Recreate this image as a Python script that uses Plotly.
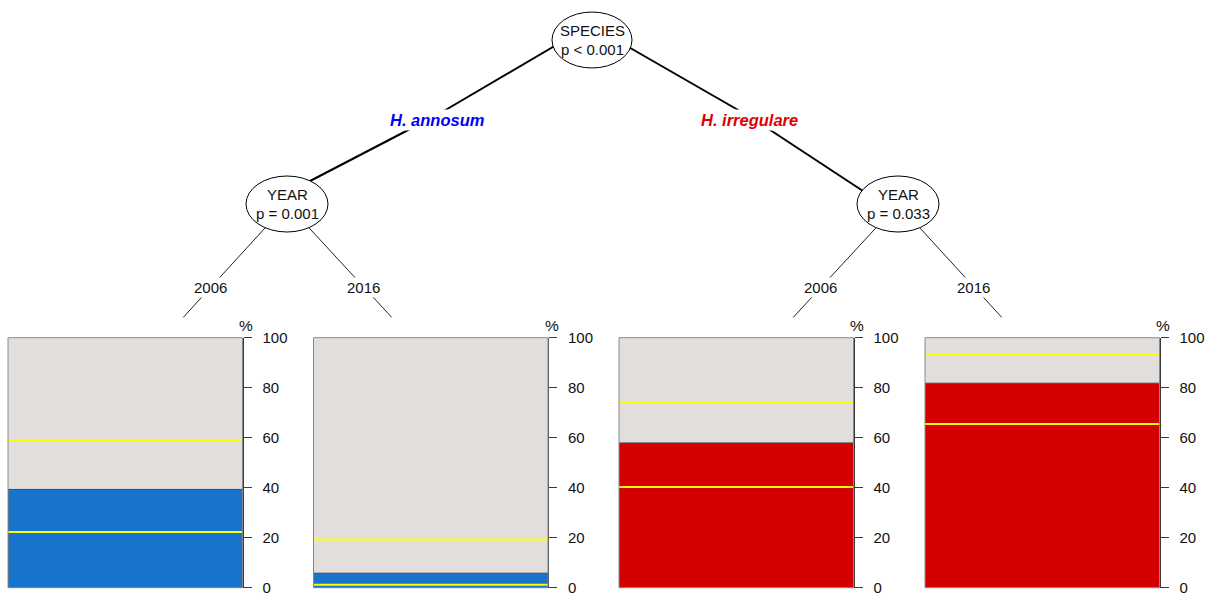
import plotly.graph_objects as go

# ---------------- data ----------------
species = ["H. annosum", "H. irregulare"]
species_colors = ["#0000FF", "#E00000"]
years = ["2006", "2016"]
node_titles = ["SPECIES", "YEAR", "YEAR"]
node_pvals = ["p &lt; 0.001", "p = 0.001", "p = 0.033"]
bar_colors = ["#1874CD", "#1874CD", "#D40000", "#D40000"]
pct = [39.3, 5.8, 57.9, 81.8]        # proportion (%) in each terminal node
ci_lo = [22.3, 1.2, 40.3, 65.5]      # lower confidence limit (%)
ci_hi = [59.1, 19.3, 74.2, 93.5]     # upper confidence limit (%)
tick_vals = [0, 20, 40, 60, 80, 100]

W, H = 1211, 597
FONT = "Liberation Sans, Arial, Helvetica, sans-serif"
GREY = "#E2DEDB"
TXT = "#111111"

fig = go.Figure()

# ---------------- terminal panels ----------------
panel_left = [8, 313.5, 619, 925]
panel_w = 234.5
y_bot, y_top = 587.7, 337.7

for i in range(4):
    n = i + 2
    xa, ya = f"x{n}", f"y{n}"
    x0 = panel_left[i]
    fig.add_trace(go.Bar(x=[0], y=[100 - pct[i]], base=[pct[i]], width=[1],
                         marker=dict(color=GREY, line=dict(width=0)),
                         xaxis=xa, yaxis=ya, hoverinfo="skip"))
    fig.add_trace(go.Bar(x=[0], y=[pct[i]], base=[0], width=[1],
                         marker=dict(color=bar_colors[i], line=dict(color="#4a4a4a", width=1)),
                         xaxis=xa, yaxis=ya, hoverinfo="skip"))
    for v in (ci_lo[i], ci_hi[i]):
        fig.add_trace(go.Scatter(x=[-0.5, 0.5], y=[v, v], mode="lines",
                                 line=dict(color="#FFFF00", width=2),
                                 xaxis=xa, yaxis=ya, hoverinfo="skip"))
    fig.update_layout(**{
        f"xaxis{n}": dict(domain=[x0 / W, (x0 + panel_w) / W], range=[-0.5, 0.5],
                          visible=False, anchor=ya, fixedrange=True, automargin=False),
        f"yaxis{n}": dict(domain=[1 - y_bot / H, 1 - y_top / H], range=[0, 100],
                          anchor=xa, side="right", showgrid=False, zeroline=False,
                          showline=True, linecolor="#3a3a3a", linewidth=1,
                          ticks="outside", ticklen=8, tickwidth=1, tickcolor="#3a3a3a",
                          tickvals=tick_vals, ticklabelstandoff=8, automargin=False,
                          ticklabeloverflow="allow",
                          tickfont=dict(family=FONT, size=15, color=TXT),
                          fixedrange=True),
    })
    fig.add_shape(type="rect", xref=f"{xa} domain", yref=f"{ya} domain",
                  x0=0, x1=1, y0=0, y1=1, line=dict(color="#8a8a8a", width=1),
                  fillcolor="rgba(0,0,0,0)", layer="above")
    fig.add_annotation(x=x0 + panel_w + 3.5, y=325, xref="x", yref="y", text="%",
                       showarrow=False, font=dict(family=FONT, size=15.5, color=TXT))

# ---------------- tree (pixel coordinate frame) ----------------
fig.update_layout(
    xaxis=dict(domain=[0, 1], range=[0, W], visible=False, fixedrange=True, automargin=False),
    yaxis=dict(domain=[0, 1], range=[H, 0], visible=False, fixedrange=True, automargin=False),
)

nodes = [(592, 40, 40, 28), (287, 204, 41, 28), (898, 204, 41, 28)]

# first level edges (parent -> label point -> child)
first_paths = [[(592, 24), (437, 115), (287, 193)],
               [(592, 26), (752, 118), (898, 214)]]
for path in first_paths:
    for (ax0, ay0), (ax1, ay1) in zip(path[:-1], path[1:]):
        fig.add_shape(type="line", xref="x", yref="y", x0=ax0, y0=ay0, x1=ax1, y1=ay1,
                      line=dict(color="black", width=2))

# second level edges
second = [(1, 183.3), (1, 391.7), (2, 793.3), (2, 1001.7)]
for ni, xe in second:
    cx, cy = nodes[ni][0], nodes[ni][1]
    fig.add_shape(type="line", xref="x", yref="y", x0=cx, y0=cy, x1=xe, y1=317.3,
                  line=dict(color="#222222", width=1))

# nodes
for (cx, cy, a, b), t, p in zip(nodes, node_titles, node_pvals):
    fig.add_shape(type="circle", xref="x", yref="y", x0=cx - a, x1=cx + a,
                  y0=cy - b, y1=cy + b, fillcolor="white",
                  line=dict(color="black", width=1))
    fig.add_annotation(x=cx, y=cy - 9.5, xref="x", yref="y", text=t,
                       showarrow=False, font=dict(family=FONT, size=15, color=TXT))
    fig.add_annotation(x=cx, y=cy + 9.5, xref="x", yref="y", text=p,
                       showarrow=False, font=dict(family=FONT, size=15, color=TXT))

# edge labels (species)
for (lx, ly), s, c in zip([(437, 120), (749, 120)], species, species_colors):
    fig.add_annotation(x=lx, y=ly, xref="x", yref="y", text=f"<b><i>{s}</i></b>",
                       showarrow=False, bgcolor="white", borderpad=1,
                       font=dict(family=FONT, size=16.5, color=c))

# edge labels (years)
year_pos = [(210, 287.5), (363.5, 287.5), (820, 287.5), (973.5, 287.5)]
for k, (lx, ly) in enumerate(year_pos):
    fig.add_annotation(x=lx, y=ly, xref="x", yref="y", text=years[k % 2],
                       showarrow=False, bgcolor="white", borderpad=1,
                       font=dict(family=FONT, size=15, color=TXT))

fig.update_layout(width=W, height=H, margin=dict(l=0, r=0, t=0, b=0),
                  autosize=False, showlegend=False, barmode="overlay",
                  plot_bgcolor="white", paper_bgcolor="white")

fig.write_html("out.html", config={"displayModeBar": False})
